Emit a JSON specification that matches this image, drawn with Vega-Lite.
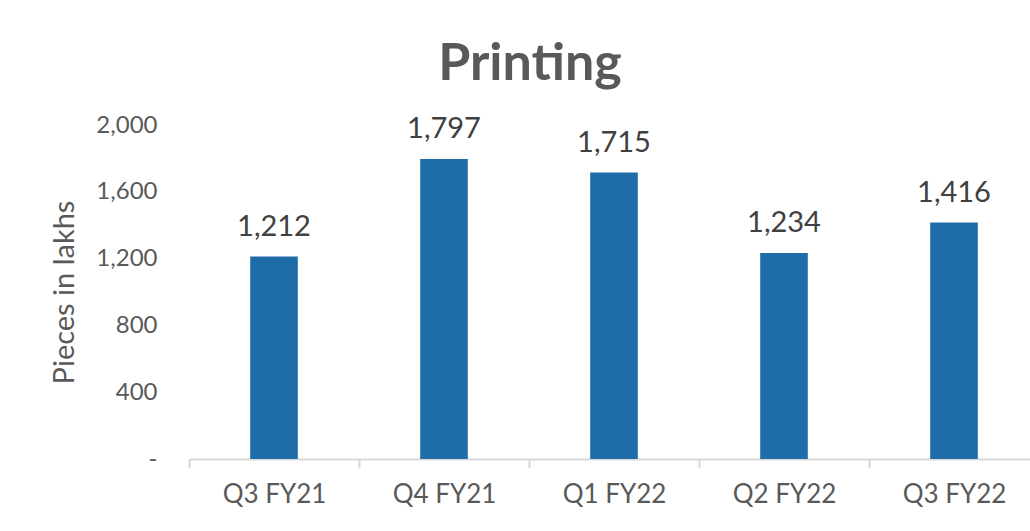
{
  "$schema": "https://vega.github.io/schema/vega-lite/v6.json",
  "width": 850,
  "height": 334,
  "autosize": {"type": "none"},
  "padding": {"left": 189, "top": 125, "right": 0, "bottom": 72},
  "background": "white",
  "config": {"view": {"stroke": null}},
  "title": {
    "text": "Printing",
    "fontSize": 52,
    "font": "Lato",
    "fontWeight": "bold",
    "color": "#595959",
    "anchor": "middle",
    "frame": "group",
    "dx": -84,
    "offset": 22
  },
  "data": {
    "values": [
      {"quarter": "Q3 FY21", "value": 1212},
      {"quarter": "Q4 FY21", "value": 1797},
      {"quarter": "Q1 FY22", "value": 1715},
      {"quarter": "Q2 FY22", "value": 1234},
      {"quarter": "Q3 FY22", "value": 1416}
    ]
  },
  "encoding": {
    "x": {
      "field": "quarter",
      "type": "nominal",
      "sort": null,
      "scale": {"paddingInner": 0, "paddingOuter": 0},
      "axis": {
        "title": null,
        "labelAngle": 0,
        "labelFont": "Lato",
        "labelFontSize": 26,
        "labelColor": "#595959",
        "labelPadding": 13,
        "domainColor": "#d9d9d9",
        "domainWidth": 2,
        "tickColor": "#d9d9d9",
        "tickWidth": 2,
        "tickSize": 9,
        "tickBand": "extent"
      }
    }
  },
  "layer": [
    {
      "mark": {"type": "bar", "color": "#1f6da8", "width": {"band": 0.28}},
      "encoding": {
        "y": {
          "field": "value",
          "type": "quantitative",
          "scale": {"domain": [0, 2000]},
          "axis": {
            "title": "Pieces in lakhs",
            "titleFont": "Lato",
            "titleFontSize": 29,
            "titleFontWeight": "normal",
            "titleColor": "#595959",
            "titlePadding": 16,
            "values": [0, 400, 800, 1200, 1600, 2000],
            "labelExpr": "datum.value == 0 ? '-' : format(datum.value, ',')",
            "labelFont": "Lato",
            "labelFontSize": 24,
            "labelColor": "#595959",
            "labelPadding": 32,
            "ticks": false,
            "domain": false,
            "grid": false
          }
        }
      }
    },
    {
      "mark": {
        "type": "text",
        "font": "Lato",
        "fontSize": 29,
        "color": "#404040",
        "baseline": "bottom",
        "dy": -15
      },
      "encoding": {
        "y": {"field": "value", "type": "quantitative"},
        "text": {"field": "value", "type": "quantitative", "format": ","}
      }
    }
  ]
}
